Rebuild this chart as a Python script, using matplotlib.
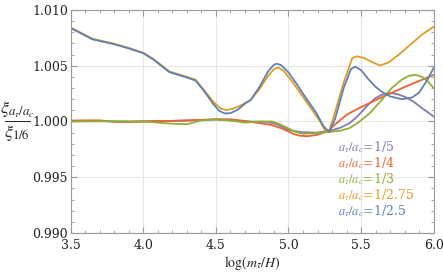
import matplotlib
matplotlib.use("Agg")
import matplotlib.pyplot as plt
from matplotlib.lines import Line2D
from matplotlib.ticker import MultipleLocator

plt.rcParams['font.family'] = ['DejaVu Serif']
plt.rcParams['mathtext.fontset'] = 'stix'

# ratio a_tau/a_c = 1/5
x_p = [3.5, 3.7, 3.9, 4.1, 4.3, 4.5, 4.7, 4.85, 4.92, 5.0, 5.08, 5.19, 5.28, 5.36, 5.42, 5.47, 5.52, 5.56, 5.6, 5.64, 5.68, 5.71, 5.75, 5.8, 5.86, 5.93, 6.0]
y_p = [1.00003, 1.00003, 1.0, 1.00003, 1.00008, 1.00018, 1.0, 0.99997, 0.99975, 0.99925, 0.99905, 0.999, 0.99915, 0.99945, 0.99985, 1.0004, 1.0011, 1.00165, 1.0021, 1.00238, 1.00252, 1.00254, 1.00245, 1.00222, 1.00179, 1.0011, 1.00045]

# 1/4
x_r = [3.5, 3.6, 3.7, 3.8, 3.9, 4.0, 4.1, 4.2, 4.3, 4.4, 4.5, 4.6, 4.7, 4.8, 4.88, 4.95, 5.0, 5.04, 5.08, 5.13, 5.19, 5.24, 5.28, 5.34, 5.4, 5.5, 5.63, 5.8, 6.0]
y_r = [1.00008, 1.0001, 1.0001, 0.99997, 0.99995, 1.0, 1.00005, 1.00005, 1.0001, 1.00015, 1.0002, 1.0002, 1.00005, 0.99985, 0.9997, 0.9994, 0.9991, 0.99885, 0.99872, 0.99868, 0.99878, 0.99898, 0.99926, 0.99995, 1.0006, 1.0013, 1.00209, 1.0031, 1.00418]

# 1/3
x_g = [3.5, 3.7, 3.9, 4.0, 4.1, 4.2, 4.3, 4.4, 4.5, 4.6, 4.7, 4.8, 4.89, 4.95, 5.0, 5.05, 5.1, 5.19, 5.29, 5.36, 5.42, 5.48, 5.56, 5.64, 5.71, 5.78, 5.83, 5.876, 5.92, 5.96, 6.0]
y_g = [1.0, 1.00002, 1.0, 1.0, 0.9999, 0.9998, 0.99975, 1.0001, 1.00018, 1.0001, 0.9999, 1.0, 1.0, 0.9997, 0.99937, 0.99905, 0.9989, 0.99895, 0.99908, 0.99918, 0.9994, 0.9999, 1.00075, 1.0019, 1.00299, 1.00375, 1.0041, 1.00418, 1.004, 1.0036, 1.00299]

# 1/2.75
x_o = [3.5, 3.65, 3.8, 3.9, 4.0, 4.07, 4.18, 4.3, 4.36, 4.42, 4.48, 4.53, 4.57, 4.62, 4.68, 4.74, 4.8, 4.86, 4.9, 4.93, 4.97, 5.03, 5.1, 5.17, 5.22, 5.25, 5.28, 5.32, 5.38, 5.44, 5.47, 5.52, 5.58, 5.63, 5.69, 5.76, 5.84, 5.92, 6.0]
y_o = [1.00843, 1.00742, 1.00698, 1.0066, 1.00617, 1.0056, 1.00448, 1.0040, 1.00375, 1.0028, 1.0018, 1.00118, 1.00102, 1.00115, 1.0015, 1.00194, 1.0029, 1.0041, 1.0047, 1.00485, 1.0045, 1.0035, 1.0022, 1.0009, 0.99995, 0.9992, 0.99915, 1.0008, 1.0035, 1.0057, 1.00585, 1.0057, 1.0053, 1.00502, 1.0053, 1.006, 1.0069, 1.0078, 1.0085]

# 1/2.5
x_b = [3.5, 3.65, 3.8, 3.9, 4.0, 4.07, 4.18, 4.3, 4.36, 4.42, 4.48, 4.52, 4.56, 4.6, 4.65, 4.7, 4.74, 4.8, 4.86, 4.9, 4.92, 4.95, 5.0, 5.06, 5.12, 5.19, 5.24, 5.28, 5.32, 5.38, 5.43, 5.46, 5.5, 5.55, 5.6, 5.65, 5.7, 5.78, 5.85, 5.9, 5.95, 6.0]
y_b = [1.00838, 1.00737, 1.00693, 1.00655, 1.00612, 1.00555, 1.00442, 1.00395, 1.00367, 1.0027, 1.0016, 1.00098, 1.00072, 1.00075, 1.00105, 1.0016, 1.00194, 1.0031, 1.0045, 1.0051, 1.00518, 1.00505, 1.0044, 1.0033, 1.0021, 1.0008, 0.9996, 0.99905, 1.0002, 1.003, 1.0047, 1.00492, 1.0046, 1.0038, 1.0031, 1.0026, 1.00225, 1.002, 1.00215, 1.0026, 1.0036, 1.0048]

labels = [r'$a_\tau/a_c$=1/5', r'$a_\tau/a_c$=1/4', r'$a_\tau/a_c$=1/3',
          r'$a_\tau/a_c$=1/2.75', r'$a_\tau/a_c$=1/2.5']
colors = ['#8778B3', '#EB6235', '#8FB032', '#E19C24', '#5E81B5']

fig = plt.figure(figsize=(4.43, 2.78), dpi=100)
ax = fig.add_axes([0.1596, 0.162, 0.8194, 0.802])

for xs, ys, c in zip([x_p, x_r, x_g, x_o, x_b], [y_p, y_r, y_g, y_o, y_b], colors):
    ax.plot(xs, ys, color=c, lw=1.3, solid_joinstyle='round')

ax.set_xlim(3.5, 6.0)
ax.set_ylim(0.990, 1.010)
ax.xaxis.set_major_locator(MultipleLocator(0.5))
ax.xaxis.set_minor_locator(MultipleLocator(0.1))
ax.yaxis.set_major_locator(MultipleLocator(0.005))
ax.yaxis.set_minor_locator(MultipleLocator(0.001))
ax.xaxis.set_major_formatter(plt.FormatStrFormatter('%.1f'))
ax.yaxis.set_major_formatter(plt.FormatStrFormatter('%.3f'))
ax.grid(True, which='major', color='#e6e6e6', lw=0.8)
ax.set_axisbelow(True)
ax.tick_params(which='both', direction='in', top=True, right=True, colors='#999999',
               labelcolor='#222222', labelsize=9)
ax.tick_params(axis='y', pad=2)
ax.tick_params(axis='x', pad=4)
ax.tick_params(which='major', length=4)
ax.tick_params(which='minor', length=2)
for s in ax.spines.values():
    s.set_color('#999999')

ax.set_xlabel(r'$\log(m_\tau/H)$', fontsize=10, color='#222222', labelpad=2)

# y label drawn as a fraction: numerator, bar, denominator
W, H = 443, 278
fig.text(17 / W, 1 - 110 / H, r'$\xi_{a_\tau/a_c}$', fontsize=13,
         ha='center', va='center', color='#222222')
fig.add_artist(Line2D([5 / W, 30 / W], [1 - 121 / H, 1 - 121 / H],
                      color='#222222', lw=0.7))
fig.text(17 / W, 1 - 133 / H, r'$\xi_{1/6}$', fontsize=13,
         ha='center', va='center', color='#222222')

for i, (lab, c) in enumerate(zip(labels, colors)):
    ax.text(5.34, 0.99772 - i * 0.00145, lab, color=c, fontsize=9, va='center')

fig.savefig('out.png', dpi=100)
